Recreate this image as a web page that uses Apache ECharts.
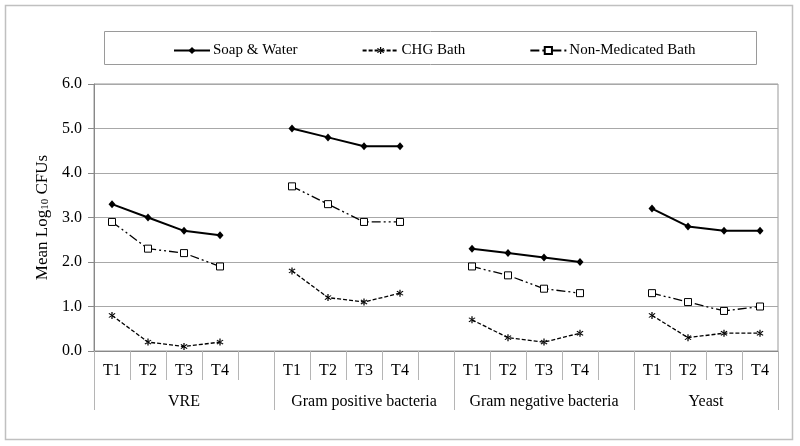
<!DOCTYPE html>
<html>
<head>
<meta charset="utf-8">
<script src="https://cdn.jsdelivr.net/npm/echarts@6/dist/echarts.min.js"></script>
<style>html,body{margin:0;padding:0;background:#fff}#c{width:800px;height:446px}</style>
</head>
<body>
<div id="c"></div>
<script>
const groups = ['VRE', 'Gram positive bacteria', 'Gram negative bacteria', 'Yeast'];
const times = ['T1', 'T2', 'T3', 'T4'];
const yTicks = [0, 1, 2, 3, 4, 5, 6];
// values per group, T1..T4
const soapWater    = [3.3, 3.0, 2.7, 2.6,  5.0, 4.8, 4.6, 4.6,  2.3, 2.2, 2.1, 2.0,  3.2, 2.8, 2.7, 2.7];
const chgBath      = [0.8, 0.2, 0.1, 0.2,  1.8, 1.2, 1.1, 1.3,  0.7, 0.3, 0.2, 0.4,  0.8, 0.3, 0.4, 0.4];
const nonMedicated = [2.9, 2.3, 2.2, 1.9,  3.7, 3.3, 2.9, 2.9,  1.9, 1.7, 1.4, 1.3,  1.3, 1.1, 0.9, 1.0];
const seriesNames = ['Soap & Water', 'CHG Bath', 'Non-Medicated Bath'];

// build category slots: T1..T4 per group plus a blank slot between groups
const cats = [];
const groupStart = [];
groups.forEach((g, gi) => {
  groupStart.push(cats.length);
  times.forEach(t => cats.push(t));
  if (gi < groups.length - 1) cats.push('');
});
function expand(vals) {
  const out = [];
  groups.forEach((g, gi) => {
    for (let i = 0; i < times.length; i++) out.push(vals[gi * times.length + i]);
    if (gi < groups.length - 1) out.push(null);
  });
  return out;
}
// group-label axis: half-slot boundaries (boundaryGap false)
const nSlots = cats.length;
const halfCats = [];
for (let i = 0; i <= nSlots * 2; i++) halfCats.push('');
const sepIdx = [];
const labelIdx = {};
groups.forEach((g, gi) => {
  const start = groupStart[gi];
  const end = gi < groups.length - 1 ? groupStart[gi + 1] : nSlots;
  sepIdx.push(start * 2);
  labelIdx[start + end] = g;
});
sepIdx.push(nSlots * 2);
Object.keys(labelIdx).forEach(k => { halfCats[+k] = labelIdx[k]; });

const FONT = '"Liberation Serif", "Times New Roman", serif';
const asterisk = 'path://M4.3 0 L5.7 0 L5.7 10 L4.3 10 Z M1.96 1.47 L8.96 7.47 L8.04 8.53 L1.04 2.53 Z M8.04 1.47 L1.04 7.47 L1.96 8.53 L8.96 2.53 Z';

const chart = echarts.init(document.getElementById('c'), null, {renderer: 'canvas'});
chart.setOption({
  animation: false,
  backgroundColor: '#fff',
  graphic: [
    {type: 'rect', shape: {x: 5.5, y: 5.5, width: 787, height: 434}, style: {fill: 'none', stroke: '#c0c0c0', lineWidth: 1.5}, z: -1},
    {type: 'rect', shape: {x: 104.5, y: 31.5, width: 652, height: 33}, style: {fill: 'none', stroke: '#9a9a9a', lineWidth: 1}, z: -1}
  ],
  legend: {
    left: 168, top: 38,
    itemWidth: 36, itemHeight: 9, itemGap: 64,
    textStyle: {fontFamily: FONT, fontSize: 15, color: '#000', padding: [0, 0, 0, -2]},
    data: seriesNames
  },
  grid: {left: 94, right: 22, top: 84, bottom: 95, show: true, borderColor: '#999', borderWidth: 1, backgroundColor: 'transparent'},
  xAxis: [
    {
      type: 'category', data: cats, boundaryGap: true, position: 'bottom',
      axisLine: {show: true, lineStyle: {color: '#888', width: 1}},
      axisTick: {show: true, length: 29, interval: 0, lineStyle: {color: '#b5b5b5'}},
      axisLabel: {interval: 0, margin: 12, fontFamily: FONT, fontSize: 16, color: '#000'},
      splitLine: {show: false}
    },
    {
      type: 'category', data: halfCats, boundaryGap: false, position: 'bottom', offset: 29,
      axisLine: {show: false},
      axisTick: {show: true, length: 30, interval: (i) => sepIdx.indexOf(i) >= 0, lineStyle: {color: '#b5b5b5'}},
      axisLabel: {interval: (i, v) => v !== '', margin: 14, fontFamily: FONT, fontSize: 16, color: '#000'},
      splitLine: {show: false}
    }
  ],
  yAxis: {
    type: 'value', min: yTicks[0], max: yTicks[yTicks.length - 1], interval: 1,
    name: 'Mean Log{sub|10} CFUs', nameLocation: 'middle', nameGap: 43, nameRotate: 90,
    nameTextStyle: {fontFamily: FONT, fontSize: 17, color: '#000',
      rich: {sub: {fontFamily: FONT, fontSize: 11, color: '#000', verticalAlign: 'bottom', padding: [6, 0, 0, 0]}}},
    axisLine: {show: true, lineStyle: {color: '#888'}},
    axisTick: {show: true, length: 6, lineStyle: {color: '#888'}},
    axisLabel: {margin: 12, fontFamily: FONT, fontSize: 16, color: '#000', formatter: v => v.toFixed(1)},
    splitLine: {show: true, lineStyle: {color: '#a8a8a8', width: 1}}
  },
  series: [
    {
      name: seriesNames[0], type: 'line', data: expand(soapWater), connectNulls: false,
      symbol: 'diamond', symbolSize: [7, 8],
      lineStyle: {color: '#000', width: 2, type: 'solid'},
      itemStyle: {color: '#000', borderColor: '#000', borderWidth: 0}
    },
    {
      name: seriesNames[1], type: 'line', data: expand(chgBath), connectNulls: false,
      symbol: asterisk, symbolSize: 7,
      lineStyle: {color: '#000', width: 1.3, type: [4, 2]},
      itemStyle: {color: '#000', borderWidth: 0}
    },
    {
      name: seriesNames[2], type: 'line', data: expand(nonMedicated), connectNulls: false,
      symbol: 'rect', symbolSize: 7,
      lineStyle: {color: '#000', width: 1.3, type: [9, 3, 2, 3, 2, 3]},
      itemStyle: {color: '#fff', borderColor: '#000', borderWidth: 1}
    }
  ]
});
</script>
</body>
</html>
